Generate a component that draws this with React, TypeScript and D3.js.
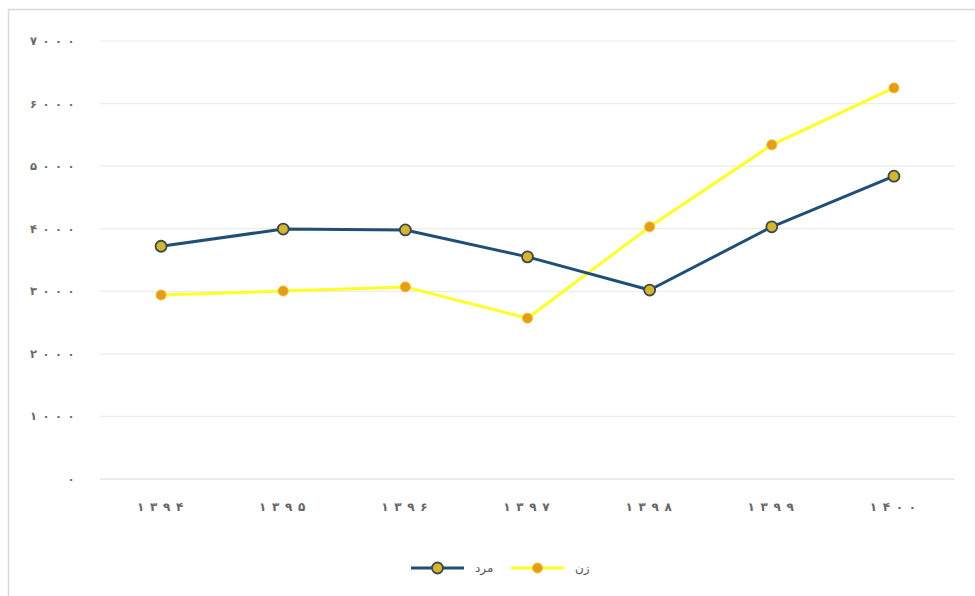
import React from 'react';
import * as d3 from 'd3';

const YEARS = ['۱۳۹۴', '۱۳۹۵', '۱۳۹۶', '۱۳۹۷', '۱۳۹۸', '۱۳۹۹', '۱۴۰۰'];
const MEN = [3720, 3995, 3980, 3550, 3020, 4030, 4840];
const WOMEN = [2940, 3005, 3070, 2570, 4030, 5340, 6250];
const Y_TICKS = [0, 1000, 2000, 3000, 4000, 5000, 6000, 7000];
const MEN_LABEL = 'مرد';
const WOMEN_LABEL = 'زن';

const W = 975;
const H = 596;
const m = { top: 41, right: 20, bottom: 117, left: 100 };
const FONT = '"DejaVu Sans", sans-serif';

const toFa = (n: number) => String(n).replace(/\d/g, d => '۰۱۲۳۴۵۶۷۸۹'[+d]);

const BLUE = '#1f4e79';
const BLUE_DOT = '#d6b52a';
const YELLOW = '#ffff22';
const YELLOW_DOT = '#e89a1a';

// Chrome ignores letter-spacing on Arabic-script digits, so space each glyph by hand
function Spaced({ s, x, y, step, anchor, size, fill }:
  { s: string; x: number; y: number; step: number; anchor: 'end' | 'middle'; size: number; fill: string }) {
  const chars = Array.from(s);
  const w = (chars.length - 1) * step;
  const x0 = anchor === 'end' ? x - w : x - w / 2;
  return (
    <g>
      {chars.map((c, i) => (
        <text key={i} x={x0 + i * step} y={y} dy="0.35em" textAnchor="middle"
          fontFamily={FONT} fontSize={size} fontWeight="bold" fill={fill}>{c}</text>
      ))}
    </g>
  );
}

export default function App() {
  const x = d3.scaleBand<string>().domain(YEARS).range([m.left, W - m.right]);
  const y = d3.scaleLinear().domain([0, 7000]).range([H - m.bottom, m.top]);
  const cx = (i: number) => (x(YEARS[i]) as number) + x.bandwidth() / 2;

  const line = d3.line<number>().x((_, i) => cx(i)).y(d => y(d));

  const legY = 568;

  return (
    <div style={{ position: 'absolute', left: 0, top: 0, background: '#fff' }}>
      <svg width={W} height={H} style={{ display: 'block' }}>
        <rect x={8.5} y={9.5} width={W} height={H} fill="#fff" stroke="#d9d9d9" strokeWidth={1.5} />

        {Y_TICKS.map(t => (
          <g key={t}>
            <line x1={m.left} x2={W - m.right} y1={y(t)} y2={y(t)}
              stroke={t === 0 ? '#d9d9d9' : '#ececec'} strokeWidth={1.2} />
            <Spaced s={toFa(t)} x={71} y={y(t)} step={12.5} anchor="end" size={11.5} fill="#6a6a6a" />
          </g>
        ))}

        {YEARS.map((yr, i) => (
          <Spaced key={yr} s={yr} x={cx(i) - 1} y={507} step={13} anchor="middle" size={12} fill="#666" />
        ))}

        <path d={line(WOMEN) || ''} fill="none" stroke={YELLOW} strokeWidth={3} strokeLinejoin="round" />
        <path d={line(MEN) || ''} fill="none" stroke={BLUE} strokeWidth={3} strokeLinejoin="round" />

        {WOMEN.map((v, i) => (
          <circle key={'w' + i} cx={cx(i)} cy={y(v)} r={5} fill={YELLOW_DOT} stroke="#f2c21a" strokeWidth={1} />
        ))}
        {MEN.map((v, i) => (
          <circle key={'m' + i} cx={cx(i)} cy={y(v)} r={5.5} fill={BLUE_DOT} stroke="#3a4a4a" strokeWidth={1.8} />
        ))}

        {/* legend */}
        <g>
          <line x1={411} x2={464} y1={legY} y2={legY} stroke={BLUE} strokeWidth={3} />
          <circle cx={437.5} cy={legY} r={5.5} fill={BLUE_DOT} stroke="#3a4a4a" strokeWidth={1.8} />
          <text x={475} y={legY} dy="0.35em" fontFamily={FONT} fontSize={12} fill="#595959">{MEN_LABEL}</text>
          <line x1={511} x2={564} y1={legY} y2={legY} stroke={YELLOW} strokeWidth={3} />
          <circle cx={537.5} cy={legY} r={5} fill={YELLOW_DOT} stroke="#f2c21a" strokeWidth={1} />
          <text x={575} y={legY} dy="0.35em" fontFamily={FONT} fontSize={12} fill="#595959">{WOMEN_LABEL}</text>
        </g>
      </svg>
    </div>
  );
}
